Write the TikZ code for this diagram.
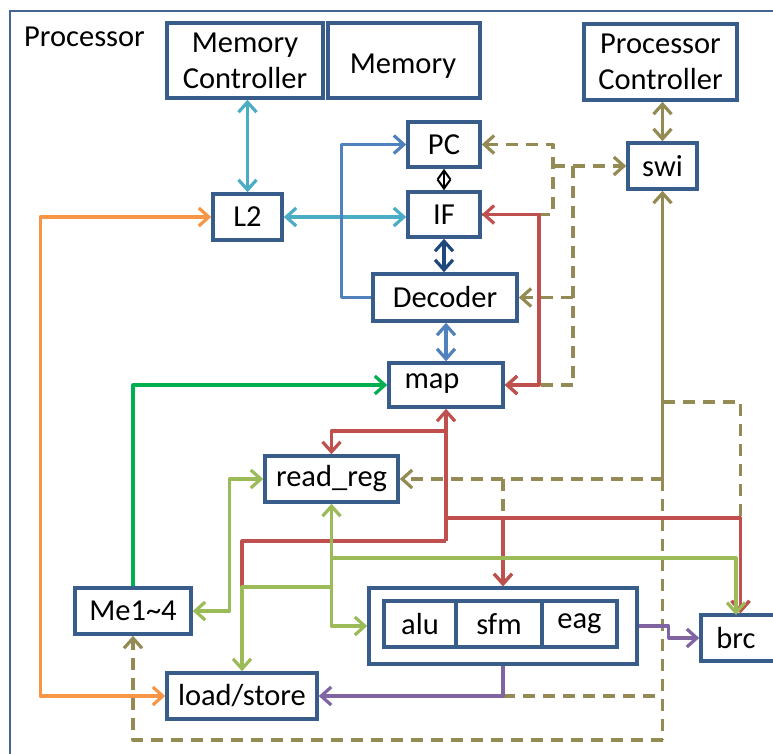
\documentclass[tikz,border=0pt]{standalone}
\usepackage{fontspec}
\setmainfont{Carlito}
\usetikzlibrary{arrows.meta}
\definecolor{boxc}{RGB}{56,93,138}
\definecolor{framec}{RGB}{70,100,145}
\definecolor{cyanc}{RGB}{75,172,198}
\definecolor{bluec}{RGB}{79,129,189}
\definecolor{dbluec}{RGB}{31,73,125}
\definecolor{redc}{RGB}{192,80,77}
\definecolor{olivec}{RGB}{148,138,84}
\definecolor{lgreenc}{RGB}{155,187,89}
\definecolor{greenc}{RGB}{0,176,80}
\definecolor{orangec}{RGB}{247,150,70}
\definecolor{purplec}{RGB}{128,100,162}
\begin{document}
\begin{tikzpicture}[x=1pt,y=-1pt,
  >={Straight Barb[length=10pt,width=18pt]},
  box/.style={draw=boxc, line width=3.6pt, fill=white, inner sep=0pt, align=center,
    font=\fontsize{30.5}{36}\selectfont},
  txt/.style={inner sep=0pt, font=\fontsize{30.5}{36}\selectfont},
  conn/.style={line width=3.2pt, line join=round},
  odash/.style={conn, draw=olivec, dash pattern=on 12pt off 8pt},
  osolid/.style={conn, draw=olivec}]
\useasboundingbox (0,0) rectangle (773,753);
% outer frame
\draw[framec, line width=2.8pt] (10,780) -- (10,11) -- (800,11);
\node[txt, anchor=base west] (ptitle) at (24,46) {Processor};

% boxes
\node[box, minimum width=156, minimum height=75] (mc) at (245,60.5) {Memory\\Controller};
\node[box, minimum width=152, minimum height=75] (mem) at (404,60.5) {};
\node[txt] (memtxt) at (403,66) {Memory};
\node[box, minimum width=153, minimum height=76] (pcc) at (660.5,62) {Processor\\Controller};
\node[box, minimum width=69, minimum height=46] (swi) at (662.5,166) {swi};
\node[box, minimum width=72, minimum height=45] (pc) at (444,144.5) {PC};
\node[box, minimum width=72, minimum height=45] (if) at (444,214.5) {IF};
\node[box, minimum width=144, minimum height=47] (dec) at (445,297.5) {Decoder};
\node[box, minimum width=114, minimum height=44] (map) at (446,385) {};
\node[txt] (maptxt) at (432,384) {map};
\node[box, minimum width=69, minimum height=46] (l2) at (247.5,217) {L2};
\node[box, minimum width=133, minimum height=46] (rr) at (331.5,479) {read\_reg};
\node[box, minimum width=116, minimum height=46] (me) at (133,611) {Me1\textasciitilde 4};
\node[box, minimum width=150, minimum height=46] (ls) at (242,696) {load/store};
\node[box, minimum width=268, minimum height=76] (ex) at (503,626) {};
\node[box, minimum width=72, minimum height=46] (alu) at (420,624) {alu};
\node[box, minimum width=86, minimum height=46] (sfm) at (499,624) {sfm};
\node[box, minimum width=75, minimum height=46] (eag) at (579.5,624) {eag};
\node[box, minimum width=79, minimum height=46] (brc) at (740.5,638) {};
\node[txt] (brctxt) at (736,638) {brc};

% helper coordinates
\coordinate (ya) at (0,402);
\coordinate (yb) at (0,431);
\coordinate (yc) at (0,518);
\coordinate (yd) at (0,541);
\coordinate (ye) at (0,558);
\coordinate (yf) at (0,587);
\coordinate (yg) at (0,740);
\coordinate (xa) at (553,0);
\coordinate (xb) at (573,0);
\coordinate (xc) at (539,0);
\coordinate (brcg) at (736,615);

% olive dashed (drawn first)
\draw[odash,<-] (pc.east) -| (xa |- if.east) -- (if.east);
\draw[odash,->] (xa |- swi.west) -- (swi.west);
\draw[odash] (xb |- swi.west) -- (xb |- map.east);
\draw[odash,->] (xb |- map.east) -- (map.east);
\draw[odash,->] (xb |- dec.east) -- (dec.east);
\coordinate (s1) at (swi.south |- rr.east);
\draw[odash,->] (s1) -- (rr.east);
\draw[odash] (s1) -- (swi.south |- yg);
\draw[odash,->] (swi.south |- yg) -| (me.south);
\draw[odash] (ex.south |- ls.east) -- (swi.south |- ls.east);
\draw[odash,->] (swi.south |- ya) -| (brc.north);
\draw[odash,->] (ex.north |- rr.east) -- (ex.north);
\draw[osolid,->] (s1) -- (swi.south);
\draw[osolid,<->] (swi.north |- pcc.south) -- (swi.north);

% blue family
\draw[conn, cyanc,<->] (l2.north |- mc.south) -- (l2.north);
\draw[conn, cyanc,<->] (l2.east) -- (l2.east -| if.west);
\draw[conn, bluec,->] (dec.west) -- ++(-30,0) |- (pc.west);
\draw[black, line width=2pt, {Straight Barb[length=9pt,width=13pt]}-{Straight Barb[length=9pt,width=13pt]}] (pc.south) -- (if.north);
\draw[conn, dbluec,<->] (if.south) -- (if.south |- dec.north);
\draw[conn, bluec,<->] (map.north |- dec.south) -- (map.north);

% red
\draw[conn, redc,<->] (if.east) -| (xc |- map.east) -- (map.east);
\draw[conn, redc,->] (map.south |- yd) -- (map.south);
\draw[conn, redc] (map.south |- yd) -| (ls.north |- yf);
\draw[conn, redc,->] (map.south |- yb) -| (rr.north);
\draw[conn, redc,->] (map.south |- yc) -| (brc.north);
\draw[conn, redc,->] (ex.north |- yc) -- (ex.north);

% light green
\draw[conn, lgreenc,<->] (rr.south) |- (ex.west);
\draw[conn, lgreenc,->] (rr.south |- ye) -| (brcg);
\draw[conn, lgreenc,->] (rr.south |- yf) -| (ls.north);
\draw[conn, lgreenc,<->] (me.east) -- ++(37,0) |- (rr.west);

% green
\draw[conn, greenc,->] (me.north) |- (map.west);

% orange
\draw[conn, orangec,<->] (l2.west) -- ++(-171,0) |- (ls.west);

% purple
\draw[conn, purplec,->] (ex.south) |- (ls.east);
\draw[conn, purplec,->] (ex.east) -- ++(30,0) |- (brc.west);
\end{tikzpicture}
\end{document}
